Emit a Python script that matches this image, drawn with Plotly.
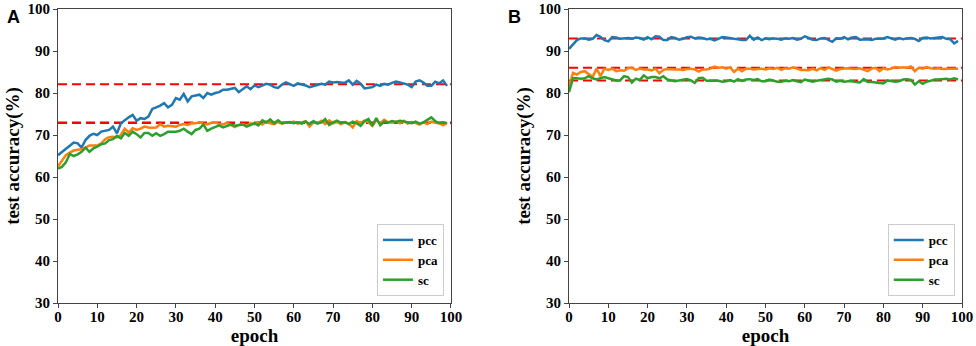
import plotly.graph_objects as go
from plotly.subplots import make_subplots

epochs = list(range(100))

pcc_A = [65.2, 66.0, 66.8, 67.6, 68.2, 68.0, 67.0, 68.8, 69.8, 70.3,
         70.0, 70.8, 71.0, 71.2, 72.0, 70.4, 72.8, 73.6, 74.2, 74.8,
         73.4, 74.0, 73.8, 74.4, 76.2, 76.6, 77.0, 77.6, 76.6, 77.2,
         78.8, 78.4, 79.8, 78.0, 79.2, 79.4, 79.6, 78.8, 80.0, 79.6,
         80.0, 80.2, 80.8, 80.8, 81.0, 81.2, 80.2, 81.0, 81.6, 80.9,
         81.8, 81.4, 81.8, 82.2, 82.0, 81.4, 81.2, 82.0, 82.5, 82.0,
         81.7, 82.3, 82.1, 81.8, 81.4, 81.6, 81.9, 82.2, 82.0, 82.7,
         82.5, 82.6, 82.5, 82.4, 83.0, 82.0, 82.9, 82.2, 81.1, 81.2,
         81.4, 82.0, 81.7, 82.2, 82.0, 82.4, 82.7, 82.5, 82.3, 82.0,
         81.4, 82.7, 83.0, 82.5, 81.7, 81.7, 82.7, 82.3, 83.0, 81.7]

pca_A = [62.5, 63.8, 65.2, 65.8, 66.3, 66.5, 66.6, 67.0, 67.5, 67.5,
         67.5, 68.0, 69.0, 69.5, 69.6, 69.4, 70.0, 71.5, 70.6, 71.6,
         71.2, 71.5, 72.0, 71.8, 71.7, 71.8, 72.6, 72.0, 72.2, 72.1,
         72.0, 72.4, 72.6, 72.4, 72.8, 72.8, 73.0, 72.7, 72.5, 72.9,
         73.0, 72.6, 72.5, 72.9, 72.3, 71.9, 72.4, 72.6, 72.2, 72.8,
         72.6, 73.0, 72.5, 73.2, 72.8, 72.6, 73.1, 72.7, 73.0, 72.9,
         73.2, 72.7, 73.0, 73.3, 72.0, 73.0, 72.8, 73.4, 72.6, 73.5,
         72.8, 73.1, 72.6, 73.0, 72.7, 71.8, 73.3, 72.9, 73.4, 73.1,
         72.2, 73.5, 72.8, 73.6, 73.0, 72.9, 73.2, 72.8, 73.4, 72.7,
         73.1, 72.9, 72.5, 73.0, 72.6, 73.2, 72.9, 72.8, 72.3, 72.9]

sc_A = [62.0, 62.4, 63.5, 65.5, 65.0, 65.4, 66.0, 67.0, 66.0, 66.8,
        67.2, 67.8, 68.0, 68.8, 69.0, 69.8, 69.2, 70.5, 69.8, 70.8,
        70.2, 69.4, 70.5, 70.5, 69.8, 70.4, 69.8, 70.2, 70.8, 70.8,
        70.8, 71.0, 71.5, 70.8, 70.2, 71.2, 71.5, 72.5, 71.0, 71.5,
        72.0, 72.3, 71.8, 72.2, 72.5, 72.2, 72.3, 72.5, 72.0, 72.5,
        72.8, 72.3, 73.5, 73.0, 73.7, 72.8, 73.5, 72.8, 73.0, 73.1,
        72.8, 73.0, 72.7, 73.2, 72.6, 73.3, 72.7, 73.0, 73.8, 72.4,
        73.0, 73.4, 72.9, 73.1, 72.6, 73.2, 72.8, 72.2, 73.3, 73.8,
        72.2, 74.0, 72.3, 73.2, 73.0, 73.3, 73.1, 73.4, 73.2, 73.0,
        72.8, 73.2, 72.7, 73.0, 73.5, 74.2, 73.3, 72.8, 73.0, 72.8]

pcc_B = [90.5, 91.6, 92.6, 93.0, 93.0, 92.7, 92.9, 93.8, 93.4, 92.6,
         92.3, 93.3, 93.2, 92.9, 93.0, 93.1, 92.9, 93.2, 93.1, 92.7,
         93.3, 92.8, 93.5, 93.4, 92.6, 92.6, 93.3, 93.1, 92.7, 92.9,
         93.3, 93.4, 93.0, 93.2, 93.1, 92.8, 92.9, 92.5, 92.9, 93.3,
         93.2, 93.0, 92.9, 92.8, 92.6, 92.6, 93.6, 92.7, 93.2, 92.6,
         93.0, 92.8, 93.0, 92.9, 92.7, 93.0, 92.9, 93.1, 92.7, 92.9,
         93.5, 93.1, 92.7, 92.6, 93.0, 93.1, 92.6, 92.2, 93.0, 92.9,
         93.3, 92.8, 93.2, 93.3, 92.7, 92.8, 92.8, 92.6, 92.9, 92.9,
         93.0, 93.3, 93.0, 92.7, 93.1, 92.8, 93.0, 93.1, 92.9, 92.4,
         93.1, 93.2, 93.0, 93.1, 93.2, 93.3, 92.9, 92.8, 91.8, 92.4]

pca_B = [81.5, 84.8, 84.4, 85.0, 85.2, 84.6, 83.8, 85.8, 84.0, 85.8,
         85.5, 85.8, 85.2, 85.4, 85.3, 85.9, 86.0, 85.5, 85.8, 85.6,
         85.6, 85.4, 85.8, 84.7, 85.5, 85.7, 85.6, 85.6, 85.6, 85.5,
         85.7, 85.8, 85.6, 85.1, 85.6, 85.6, 85.8, 86.3, 86.0, 86.1,
         85.8, 86.1, 85.0, 85.8, 85.2, 85.8, 85.8, 85.6, 85.7, 85.8,
         85.6, 85.9, 85.7, 86.0, 85.5, 85.9, 85.8, 86.1, 85.8, 85.5,
         85.5, 85.4, 85.8, 85.4, 85.9, 85.5, 86.1, 85.7, 85.3, 85.7,
         85.8, 85.9, 85.8, 85.7, 85.9, 85.5, 85.2, 85.8, 86.0, 85.2,
         85.9, 85.6, 85.8, 86.2, 86.0, 86.1, 86.0, 86.3, 85.2, 86.0,
         85.8, 86.2, 85.9, 85.8, 85.9, 85.7, 85.8, 85.8, 85.8, 85.8]

sc_B = [80.2, 83.5, 83.5, 83.4, 83.5, 84.0, 83.5, 83.2, 83.5, 83.8,
        83.5, 83.2, 83.0, 83.0, 84.0, 83.8, 82.5, 83.4, 83.1, 84.2,
        83.5, 83.8, 83.8, 83.5, 84.0, 83.2, 83.0, 82.8, 83.0, 83.2,
        83.3, 83.0, 82.4, 83.5, 83.6, 82.9, 82.9, 82.8, 82.9, 82.7,
        82.8, 83.1, 82.7, 83.3, 82.9, 83.2, 83.3, 83.1, 83.3, 82.8,
        82.8, 83.2, 83.0, 82.7, 82.7, 82.9, 82.8, 83.1, 82.8, 82.6,
        83.2, 82.9, 82.7, 82.9, 83.1, 83.3, 83.4, 83.2, 82.7, 82.9,
        82.7, 82.8, 82.8, 82.6, 82.5, 83.3, 82.6, 82.6, 82.5, 82.5,
        82.3, 83.0, 82.8, 82.7, 82.8, 83.2, 83.3, 83.1, 82.0, 82.8,
        82.2, 82.7, 82.9, 83.2, 83.2, 83.3, 83.4, 83.2, 83.5, 83.2]

ref_A = [82.1, 73.0, 72.85]
ref_B = [93.0, 86.0, 83.0]

series_names = ["pcc", "pca", "sc"]
colors = ["#1f77b4", "#ff7f0e", "#2ca02c"]
x_ticks = [0, 10, 20, 30, 40, 50, 60, 70, 80, 90, 100]
y_ticks = [30, 40, 50, 60, 70, 80, 90, 100]

fig = make_subplots(rows=1, cols=2, horizontal_spacing=0.13)

serif = "Liberation Serif, Times New Roman, serif"

panels = [([pcc_A, pca_A, sc_A], ref_A, 1, "legend"),
          ([pcc_B, pca_B, sc_B], ref_B, 2, "legend2")]

for data, refs, col, leg in panels:
    for r in refs:
        fig.add_trace(go.Scatter(x=[0, 100], y=[r, r], mode="lines",
                                 line=dict(color="#ff0000", width=2, dash="9px,5px"),
                                 showlegend=False, hoverinfo="skip"), row=1, col=col)
    for name, vals, c in zip(series_names, data, colors):
        fig.add_trace(go.Scatter(x=epochs, y=vals, mode="lines", name=name,
                                 line=dict(color=c, width=2.5), legend=leg),
                      row=1, col=col)

axis_common = dict(showline=True, linecolor="#444", linewidth=1, mirror=True,
                   ticks="outside", ticklen=4, tickwidth=1, tickcolor="#444",
                   showgrid=False, zeroline=False,
                   tickfont=dict(family=serif, size=15, color="black", weight="bold"))

for col in (1, 2):
    fig.update_xaxes(range=[0, 100], tickvals=x_ticks, **axis_common,
                     ticklabelstandoff=-4,
                     title=dict(text="epoch",
                                font=dict(family=serif, size=19, color="black", weight="bold"),
                                standoff=0),
                     row=1, col=col)
    fig.update_yaxes(range=[30, 100], tickvals=y_ticks, **axis_common,
                     title=dict(text="test accuracy(%)",
                                font=dict(family=serif, size=19, color="black", weight="bold"),
                                standoff=2),
                     row=1, col=col)

fig.update_xaxes(domain=[0, 0.4347], row=1, col=1)
fig.update_xaxes(domain=[0.5653, 1.0], row=1, col=2)

legend_style = dict(font=dict(family=serif, size=13, color="black", weight="bold"),
                    bgcolor="white", bordercolor="#cccccc", borderwidth=1,
                    xanchor="right", yanchor="bottom", tracegroupgap=0,
                    itemwidth=30)

fig.update_layout(
    width=976, height=346,
    margin=dict(l=58, r=14, t=9, b=43, autoexpand=False),
    plot_bgcolor="white", paper_bgcolor="white",
    legend=dict(x=0.427, y=0.024, **legend_style),
    legend2=dict(x=0.992, y=0.024, **legend_style),
    annotations=[
        dict(text="A", xref="paper", yref="paper", x=-0.059, y=1.015,
             xanchor="left", yanchor="top", showarrow=False,
             font=dict(family="Liberation Sans, Arial, sans-serif", size=18, color="black", weight="bold")),
        dict(text="B", xref="paper", yref="paper", x=0.496, y=1.015,
             xanchor="left", yanchor="top", showarrow=False,
             font=dict(family="Liberation Sans, Arial, sans-serif", size=18, color="black", weight="bold")),
    ],
)

fig.write_html("out.html", config={"displayModeBar": False},
               post_script="document.body.style.margin='0';document.body.style.overflow='hidden';")
